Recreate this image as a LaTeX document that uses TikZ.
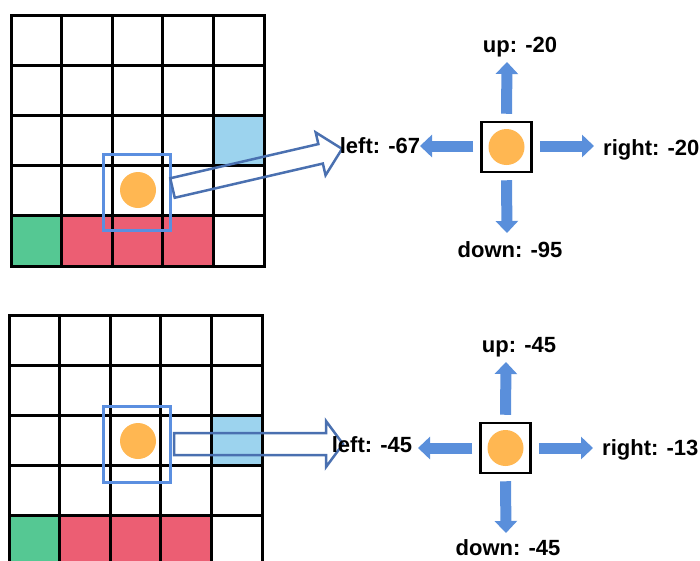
\documentclass[tikz,border=0pt]{standalone}
\usepackage{fontspec}
\setmainfont{Liberation Sans}
\usetikzlibrary{arrows.meta}
\definecolor{cellgreen}{HTML}{55C893}
\definecolor{cellred}{HTML}{EC5E73}
\definecolor{cellblue}{HTML}{9CD3EE}
\definecolor{agent}{HTML}{FFB752}
\definecolor{selblue}{HTML}{5B8FE0}
\definecolor{outlineblue}{HTML}{4A70B0}
\definecolor{arrowblue}{HTML}{5A8FDB}
\begin{document}
\begin{tikzpicture}[x=1pt,y=-1pt,
  gridline/.style={line width=3pt, line cap=rect, black},
  selbox/.style={draw=selblue, line width=3pt},
  hollow/.style={draw=outlineblue, line width=2.5pt, line join=miter},
  statebox/.style={draw=black, line width=2.5pt, minimum size=50pt, inner sep=0pt, fill=white},
  agentdot/.style={circle, fill=agent, minimum size=36pt, inner sep=0pt},
  blockarrow/.style={draw=arrowblue, line width=11pt, -{Triangle[width=22pt,length=12pt]}},
  qlabel/.style={font=\fontsize{22}{26}\selectfont\bfseries, inner sep=0pt},
]
\useasboundingbox (0,0) rectangle (700,560);
\clip (0,0) rectangle (700,560);

% ---------- upper grid world ----------
\begin{scope}[shift={(11,15)}, x=50.6pt, y=-50.2pt]
  \fill[cellgreen] (0,4) rectangle (1,5);
  \fill[cellred] (1,4) rectangle (4,5);
  \fill[cellblue] (4,2) rectangle (5,3);
  \foreach \i in {0,...,5} {
    \draw[gridline] (\i,0) -- (\i,5);
    \draw[gridline] (0,\i) -- (5,\i);
  }
\end{scope}
\node[agentdot] (dotA) at (138,190) {};
\node[selbox, minimum width=67pt, minimum height=76pt, inner sep=0pt] (selA) at (136.5,192) {};

% ---------- lower grid world ----------
\begin{scope}[shift={(9,315)}, x=50.6pt, y=-50.2pt]
  \fill[cellgreen] (0,4) rectangle (1,5);
  \fill[cellred] (1,4) rectangle (4,5);
  \fill[cellblue] (4,2) rectangle (5,3);
  \foreach \i in {0,...,5} {
    \draw[gridline] (\i,0) -- (\i,5);
    \draw[gridline] (0,\i) -- (5,\i);
  }
\end{scope}
\node[agentdot] (dotB) at (138,441) {};
\node[selbox, minimum width=67pt, minimum height=76pt, inner sep=0pt] (selB) at (136.5,444) {};

% ---------- hollow arrows to the zoomed state ----------
\begin{scope}[shift={(172.5,188)}, rotate=13]
  \draw[hollow] (0,-10) -- (152,-10) -- (152,-22) -- (174,0) -- (152,22) -- (152,10) -- (0,10) -- cycle;
\end{scope}
\begin{scope}[shift={(174,444)}]
  \draw[hollow] (0,-11) -- (152,-11) -- (152,-23) -- (169,0) -- (152,23) -- (152,11) -- (0,11) -- cycle;
\end{scope}

% ---------- upper action values ----------
\node[statebox] (boxA) at (506.5,147) {};
\node[agentdot] (dotA2) at (boxA.center) {};
\coordinate (upA) at (507,62);
\coordinate (leftA) at (420,146);
\coordinate (rightA) at (594,146);
\coordinate (downA) at (507,233);
\draw[blockarrow] ([yshift=7pt]boxA.north) -- (upA);
\draw[blockarrow] ([xshift=-7pt]boxA.west |- leftA) -- (leftA);
\draw[blockarrow] ([xshift=7pt]boxA.east |- rightA) -- (rightA);
\draw[blockarrow] ([yshift=-7pt]boxA.south) -- (downA);
\node[qlabel, anchor=base] (lupA) at (520,52) {up: -20};
\node[qlabel, anchor=base] (lleftA) at (380,153) {left: -67};
\node[qlabel, anchor=base west] (lrightA) at (603,155) {right: -20};
\node[qlabel, anchor=base] (ldownA) at (510,257) {down: -95};

% ---------- lower action values ----------
\node[statebox] (boxB) at (505.5,448) {};
\node[agentdot] (dotB2) at (boxB.center) {};
\coordinate (upB) at (506,362);
\coordinate (leftB) at (418,448);
\coordinate (rightB) at (593,448);
\coordinate (downB) at (506,533);
\draw[blockarrow] ([yshift=7pt]boxB.north) -- (upB);
\draw[blockarrow] ([xshift=-7pt]boxB.west |- leftB) -- (leftB);
\draw[blockarrow] ([xshift=7pt]boxB.east |- rightB) -- (rightB);
\draw[blockarrow] ([yshift=-7pt]boxB.south) -- (downB);
\node[qlabel, anchor=base] (lupB) at (519,352) {up: -45};
\node[qlabel, anchor=base] (lleftB) at (372,452) {left: -45};
\node[qlabel, anchor=base west] (lrightB) at (602,455) {right: -13};
\node[qlabel, anchor=base] (ldownB) at (508,555) {down: -45};
\end{tikzpicture}
\end{document}
